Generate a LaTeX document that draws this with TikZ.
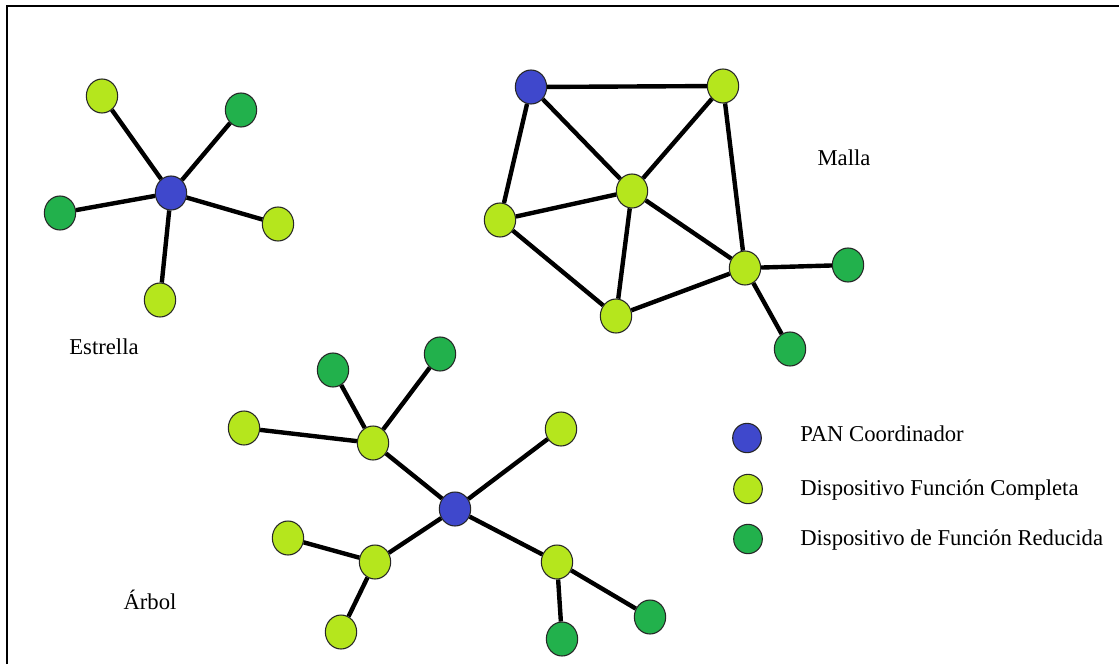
\documentclass[tikz,border=0pt]{standalone}
\usepackage{fontspec}
\setmainfont{Liberation Serif}
\usetikzlibrary{shapes.geometric}
\definecolor{coordblue}{RGB}{63,72,204}
\definecolor{fullgreen}{RGB}{181,230,29}
\definecolor{reducedgreen}{RGB}{34,177,76}
\tikzset{
  dev/.style={ellipse, draw=black!85, line width=0.8pt, minimum width=23.5pt, minimum height=25.5pt, inner sep=0pt},
  pan/.style={dev, fill=coordblue},
  ffd/.style={dev, fill=fullgreen},
  rfd/.style={dev, fill=reducedgreen},
  link/.style={line width=3.3pt, black},
  lbl/.style={font=\fontsize{17}{20}\selectfont, inner sep=0pt},
  legtext/.style={lbl, anchor=west}
}
\begin{document}
\begin{tikzpicture}[x=0.75pt, y=-0.75pt]
\useasboundingbox (0,0) rectangle (1119,664);
\fill[white] (0,0) rectangle (1119,664);
% frame
\draw[line width=1.8pt] (7,664) -- (7,6) -- (1119,6);

% star topology
\node[pan] (s0) at (171,193) {};
\node[ffd] (s1) at (102,96) {};
\node[rfd] (s2) at (241,110) {};
\node[rfd] (s3) at (60,213) {};
\node[ffd] (s4) at (278,224) {};
\node[ffd] (s5) at (160,300) {};
\foreach \n in {s1,s2,s3,s4,s5} \draw[link] (s0) -- (\n);
\node[lbl] (lstar) at (104,347) {Estrella};

% mesh topology
\node[pan] (m0) at (531,87) {};
\node[ffd] (m1) at (723,86) {};
\node[ffd] (m2) at (632,191) {};
\node[ffd] (m3) at (500,220) {};
\node[ffd] (m4) at (745,268) {};
\node[ffd] (m5) at (616,316) {};
\node[rfd] (m6) at (848,265) {};
\node[rfd] (m7) at (790,349) {};
\draw[link] (m0) -- (m1);
\draw[link] (m0) -- (m2);
\draw[link] (m0) -- (m3);
\draw[link] (m1) -- (m2);
\draw[link] (m1) -- (m4);
\draw[link] (m2) -- (m3);
\draw[link] (m2) -- (m4);
\draw[link] (m2) -- (m5);
\draw[link] (m3) -- (m5);
\draw[link] (m5) -- (m4);
\draw[link] (m4) -- (m6);
\draw[link] (m4) -- (m7);
\node[lbl] (lmesh) at (844,158) {Malla};

% tree topology
\node[pan] (t0) at (455,509) {};
\node[ffd] (t1) at (373,443) {};
\node[rfd] (t11) at (333,370) {};
\node[rfd] (t12) at (440,354) {};
\node[ffd] (t13) at (244,428) {};
\node[ffd] (t2) at (561,429) {};
\node[ffd] (t3) at (375,562) {};
\node[ffd] (t31) at (288,538) {};
\node[ffd] (t32) at (341,632) {};
\node[ffd] (t4) at (557,562) {};
\node[rfd] (t41) at (562,639) {};
\node[rfd] (t42) at (650,617) {};
\foreach \n in {t1,t2,t3,t4} \draw[link] (t0) -- (\n);
\foreach \n in {t11,t12,t13} \draw[link] (t1) -- (\n);
\foreach \n in {t31,t32} \draw[link] (t3) -- (\n);
\foreach \n in {t41,t42} \draw[link] (t4) -- (\n);
\node[lbl] (ltree) at (150,600) {Árbol};

% legend
\node[pan, minimum width=21.5pt, minimum height=22pt] (k1) at (747,438) {};
\node[ffd, minimum width=21.5pt, minimum height=22pt] (k2) at (748,489) {};
\node[rfd, minimum width=21.5pt, minimum height=22pt] (k3) at (748,539) {};
\node[legtext] (kt1) at (800,434) {PAN Coordinador};
\node[legtext] (kt2) at (800,490) {Dispositivo Función Completa};
\node[legtext] (kt3) at (800,540) {Dispositivo de Función Reducida};
\end{tikzpicture}
\end{document}
